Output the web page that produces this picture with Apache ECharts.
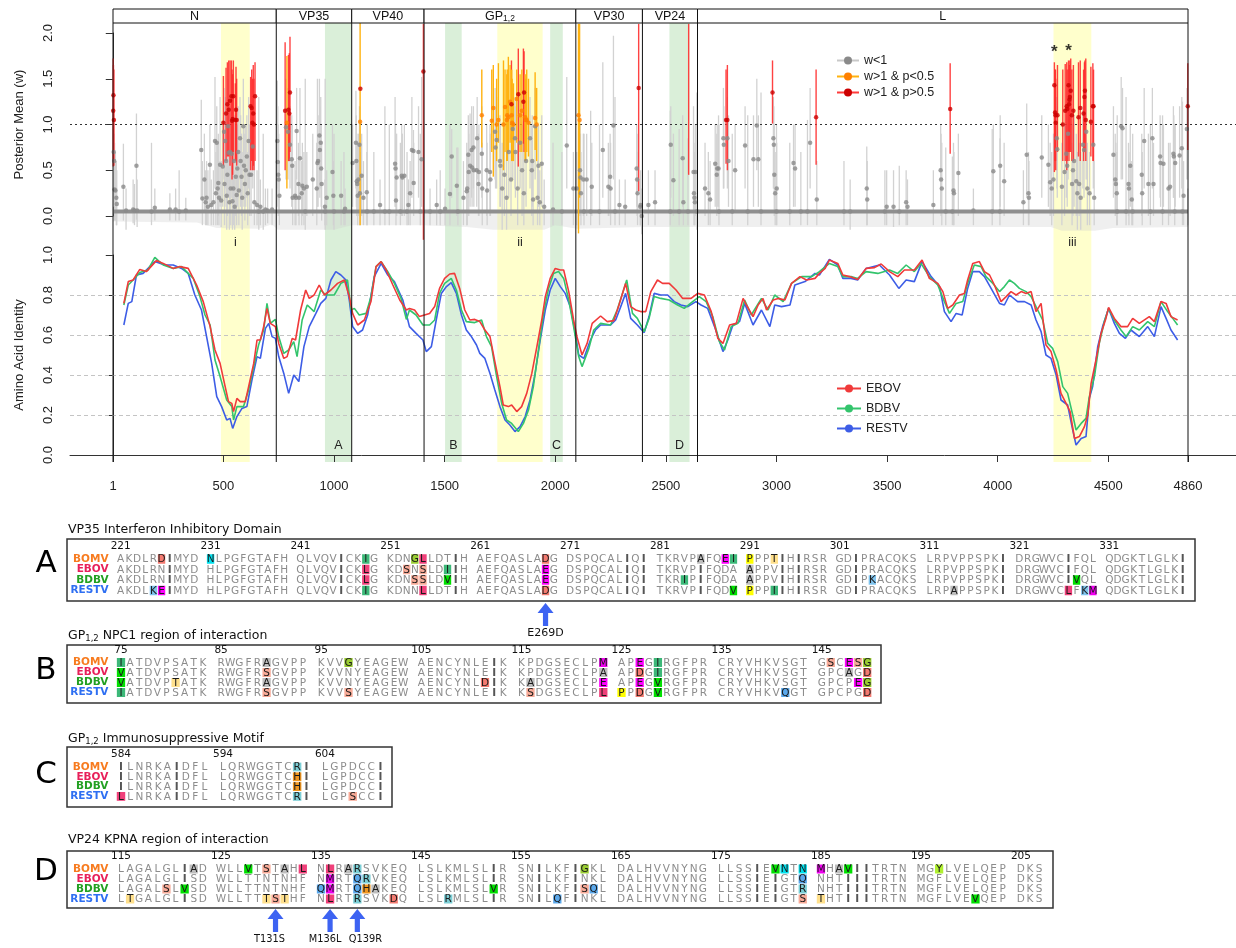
<!DOCTYPE html>
<html>
<head>
<meta charset="utf-8">
<script src="https://cdn.jsdelivr.net/npm/echarts@6.0.0/dist/echarts.min.js"></script>
<style>html,body{margin:0;padding:0;background:#fff;}#chart{width:1236px;height:948px;}</style>
</head>
<body>
<div id="chart"></div>
<script>
// ================= DATA =================
const geneNames = ['N','VP35','VP40','GP','VP30','VP24','L'];
const geneBounds = [1,739,1080,1407,2093,2394,2643,4860];
const hotspotRanges = [[489,619],[1738,1943],[4252,4423]];
const hotspotLabels = ['i','ii','iii'];
const motifRanges = [[959,1080],[1502,1577],[1977,2034],[2516,2607]];
const motifLabels = ['A','B','C','D'];
const xTickValues = [1,500,1000,1500,2000,2500,3000,3500,4000,4500,4860];
const identityGridValues = [0.2,0.4,0.6,0.8];
const baselineW = 0.05;
const starSites = [[4256,1.79],[4320,1.80]];

// HPD "fuzz" lower envelope below the baseline [pos, w]
const hpdFloor = [[1,-0.06],[380,-0.07],[470,-0.13],[660,-0.14],[720,-0.09],[745,-0.15],[1000,-0.15],[1080,-0.1],[1400,-0.1],[1600,-0.12],[1720,-0.15],[1950,-0.15],[2000,-0.1],[2100,-0.14],[2400,-0.12],[2650,-0.12],[3000,-0.12],[4240,-0.12],[4290,-0.16],[4440,-0.16],[4520,-0.13],[4860,-0.12]];

// sites: [pos, posterior mean w, HPD low, HPD high]
const siteGray = [
[4,0.7,0.1,1.27],[6,0.6,0.05,0.9],[8,0.29,-0.05,0.8],[12,0.28,-0.05,0.7],[16,0.2,-0.1,0.6],[18,0.13,-0.1,0.5],
[48,0.32,-0.05,0.79],[60,0.06,-0.15,0.3],[92,0.07,-0.08,0.4],[98,0.06,-0.1,0.35],[107,0.55,-0.04,1.12],[110,0.06,-0.12,0.4],
[175,0.05,-0.1,0.8],[190,0.09,-0.05,0.3],[258,0.07,-0.05,0.25],[284,0.07,-0.05,0.3],[300,0.05,-0.05,0.5],[330,0.06,-0.05,0.2],
[400,0.72,0.2,1.27],[405,0.19,-0.1,0.6],[414,0.4,0.05,0.9],[420,0.15,-0.1,0.5],[424,0.2,-0.1,0.6],[430,0.1,-0.1,0.5],[439,0.56,0.1,1.0],[445,0.12,-0.1,0.4],[455,0.15,-0.1,0.5],
[462,0.82,0.3,1.52],[466,0.25,-0.1,0.7],[470,0.8,0.3,1.2],[474,0.3,-0.1,0.8],[477,0.36,0.0,0.9],[480,0.2,-0.1,0.6],[485,0.56,0.1,1.3],[490,0.17,-0.12,0.6],
[497,0.54,0.1,1.0],[503,0.92,0.4,1.4],[505,0.35,-0.1,0.9],[508,0.82,0.3,1.3],[512,0.6,0.1,1.1],[515,0.22,-0.15,0.8],[518,0.45,0,1.0],[521,0.98,0.5,1.5],[524,0.69,0.2,1.2],[527,0.15,-0.15,0.6],[530,0.7,0.2,1.2],[533,0.3,-0.1,0.9],[538,0.68,0.2,1.3],[541,0.16,-0.15,0.6],[545,0.3,-0.1,0.8],[548,0.6,0.1,1.1],[551,0.1,-0.15,0.5],[556,0.43,0,1.0],[560,0.23,-0.1,0.7],[563,0.52,0.1,1.0],[567,0.7,0.2,1.2],[570,0.28,-0.1,0.8],[575,0.85,0.4,1.3],[578,0.6,0.1,1.1],[582,0.43,0,0.9],[585,0.2,-0.15,0.7],[590,0.98,0.5,1.5],[593,0.55,0.1,1.0],[597,0.35,-0.05,0.9],[601,0.5,0.1,1.0],[606,0.65,0.2,1.1],[610,0.25,-0.1,0.7],[614,0.82,0.3,1.3],[618,0.45,0,1.0],[625,0.45,0,1.0],[633,0.76,0.3,1.2],[640,0.15,-0.1,0.6],[652,0.12,-0.1,0.5],[660,0.05,-0.15,1.3],[667,0.1,-0.1,0.4],[680,0.05,-0.15,0.9],[690,0.07,-0.1,0.3],[700,0.06,-0.08,0.3],[720,0.07,-0.1,0.3],
[744,0.82,0.3,1.48],[746,0.59,0.1,1.2],[748,0.45,0,1.0],[750,0.4,0,0.9],[753,0.22,-0.1,0.6],[783,0.97,0.4,1.5],[792,0.92,0.4,1.4],[801,0.78,0.3,1.2],[809,0.62,0.1,1.1],[811,0.55,0.1,1.0],[813,0.2,-0.1,0.6],[824,0.22,-0.1,0.6],[828,0.2,-0.1,0.5],[831,0.93,0.4,1.4],[839,0.35,0,0.8],[842,0.2,-0.1,0.6],[846,0.63,0.2,1.4],[854,0.25,-0.1,0.6],[857,0.33,0,0.8],[864,0.3,-0.1,0.7],[870,0.05,-0.15,1.5],[877,0.32,0,0.7],[904,0.4,0,0.9],[922,0.3,-0.1,0.8],[925,0.58,0.1,1.5],[928,0.6,0.1,1.1],[934,0.88,0.3,1.5],[936,0.72,0.2,1.2],[940,0.8,0.3,1.3],[942,0.52,0.1,1.0],[944,0.35,-0.05,0.8],[959,0.1,-0.1,0.4],[960,0.05,-0.15,1.5],[967,0.2,-0.1,0.5],[993,0.48,0.05,1.0],[997,0.22,-0.1,0.6],[1000,0.05,-0.15,0.9],[1032,0.22,-0.1,0.6],[1045,0.05,-0.1,0.7],[1050,0.08,-0.1,0.3],
[1084,0.58,0.1,1.0],[1099,0.8,0.3,1.37],[1101,0.6,0.1,1.1],[1103,0.38,0,0.9],[1105,0.35,0,0.8],[1107,0.22,-0.1,0.6],[1110,0.4,0,0.9],[1115,0.78,0.3,1.2],[1117,0.25,-0.1,0.7],[1125,0.44,0,0.9],[1133,0.2,-0.1,0.6],[1148,0.26,-0.1,0.7],[1150,0.05,-0.1,1.0],[1180,0.05,-0.1,0.7],[1208,0.12,-0.1,0.4],[1230,0.05,-0.1,1.2],[1250,0.05,-0.1,1.0],[1276,0.57,0.1,1.3],[1278,0.52,0.1,1.0],[1280,0.17,-0.1,0.6],[1283,0.42,0,0.9],[1300,0.05,-0.1,0.8],[1306,0.44,0,1.0],[1309,0.42,0,0.9],[1318,0.44,0,1.0],[1330,0.05,-0.1,0.7],[1336,0.12,-0.1,0.4],[1344,0.25,-0.1,0.6],[1352,0.72,0.2,1.3],[1359,0.71,0.3,0.94],[1360,0.36,0,0.8],[1382,0.7,0.2,1.2],[1390,0.05,-0.1,0.9],[1396,0.62,0.1,1.52],
[1434,0.05,-0.1,0.3],[1464,0.12,-0.1,0.4],[1480,0.05,-0.1,0.5],[1502,0.08,-0.1,0.3],[1524,0.24,-0.1,1.0],[1532,0.65,0.2,0.95],[1555,0.33,0,0.75],[1560,0.05,-0.1,0.75],[1585,0.2,-0.1,0.6],[1600,0.27,-0.1,0.8],[1602,0.3,-0.1,0.7],[1607,0.67,0.2,1.1],[1609,0.48,0,0.9],[1615,0.55,0.1,1.12],[1622,0.72,0.2,1.2],[1624,0.53,0.1,1.0],[1630,0.75,0.3,1.2],[1632,0.5,0.1,1.0],[1645,0.5,0.1,1.0],[1647,0.85,0.4,1.3],[1653,0.35,0,0.9],[1655,0.48,0,1.0],[1668,0.68,0.2,1.2],[1670,0.3,-0.1,0.8],[1690,0.5,0,1.0],[1692,0.28,-0.1,0.8],[1705,0.48,0,1.0],[1707,0.4,0,0.9],[1728,0.92,0.4,1.4],[1730,0.75,0.3,1.2],[1735,0.83,0.3,1.3],[1750,0.6,0.1,1.1],[1752,0.55,0.1,1.0],[1760,0.3,-0.15,0.8],[1770,0.45,0,1.0],[1780,0.2,-0.15,0.7],[1790,0.7,0.2,1.2],[1800,0.4,0,0.9],[1808,0.95,0.4,1.4],[1818,0.85,0.3,1.3],[1820,0.7,0.2,1.2],[1830,0.3,-0.1,0.8],[1841,0.8,0.3,1.3],[1850,0.5,0,1.0],[1858,0.25,-0.1,0.8],[1868,0.6,0.1,1.1],[1886,0.85,0.3,1.3],[1894,0.5,0,1.0],[1896,0.6,0.1,1.1],[1900,0.18,-0.1,0.6],[1909,0.98,0.4,1.4],[1920,0.2,-0.1,0.6],[1924,0.55,0.1,1.0],[1930,0.15,-0.1,0.5],[1939,0.57,0.1,1.1],[1950,0.1,-0.1,0.4],[1990,0.07,-0.1,0.8],[2030,0.05,-0.1,0.7],[2052,0.77,0.3,1.52],[2082,0.3,-0.1,0.7],
[2097,0.3,-0.1,0.7],[2112,0.5,0,1.0],[2114,0.42,0,0.9],[2116,0.25,-0.1,0.7],[2127,0.4,0,0.9],[2130,0.05,-0.1,0.9],[2142,0.4,0,0.9],[2160,0.05,-0.1,1.15],[2165,0.32,0,0.8],[2200,0.05,-0.1,1.0],[2215,0.72,0.2,1.68],[2240,0.32,0,0.8],[2248,0.43,0,0.9],[2250,0.3,-0.1,0.8],[2263,0.99,0.4,1.97],[2270,0.05,-0.1,1.3],[2290,0.12,-0.1,0.4],[2316,0.1,-0.1,0.4],[2368,0.52,0.1,1.0],[2370,0.4,0,0.9],[2372,0.25,-0.1,0.7],[2384,0.1,-0.1,0.4],[2386,0.12,-0.1,0.5],[2391,0.0,-0.2,0.3],
[2421,0.12,-0.1,0.5],[2451,0.15,-0.1,0.5],[2520,0.05,-0.1,1.15],[2522,0.78,0.2,1.2],[2534,0.39,0,0.9],[2560,0.05,-0.1,0.95],[2576,0.63,0.1,1.1],[2579,0.15,-0.1,0.6],[2600,0.05,-0.1,0.85],[2625,0.48,0.05,1.2],[2627,0.25,-0.1,0.8],[2629,0.2,-0.1,0.7],[2631,0.15,-0.1,0.6],[2633,0.48,0,1.0],[2640,0.05,-0.15,1.35],
[2677,0.3,0,0.8],[2692,0.25,-0.1,0.7],[2700,0.18,-0.1,0.6],[2723,0.57,0.1,1.0],[2730,0.45,0,0.9],[2732,0.52,0.1,1.0],[2738,0.52,0.1,1.1],[2740,0.05,-0.1,1.0],[2760,0.85,0.3,1.4],[2762,0.78,0.3,1.2],[2778,0.85,0.3,1.3],[2783,0.6,0.1,1.1],[2800,0.05,-0.1,0.9],[2813,0.5,0.05,1.0],[2858,0.77,0.3,1.2],[2870,0.05,-0.1,1.1],[2896,0.62,0.1,1.1],[2911,0.99,0.5,1.5],[2918,0.62,0.1,1.1],[2930,0.05,-0.1,1.35],[2986,0.85,0.3,1.3],[2988,0.78,0.3,1.2],[2990,0.45,0,1.0],[2994,0.25,-0.1,0.7],[3000,0.05,-0.1,1.0],[3001,0.3,-0.1,0.8],[3060,0.05,-0.1,0.8],[3077,0.58,0.1,1.0],[3084,0.52,0.1,1.0],[3110,0.05,-0.1,0.7],[3140,0.05,-0.1,1.05],[3152,0.8,0.3,1.4],[3182,0.18,-0.1,0.6],
[3305,0.05,-0.1,0.6],[3333,0.05,-0.15,0.4],[3408,0.3,-0.1,0.76],[3410,0.18,-0.1,0.6],[3490,0.05,-0.1,0.5],[3498,0.1,-0.1,0.5],[3529,0.1,-0.12,0.5],[3555,0.05,-0.1,0.55],[3586,0.15,-0.1,0.5],[3592,0.1,-0.1,0.4],[3709,0.12,-0.1,0.5],[3742,0.5,0.05,1.0],[3744,0.4,0,0.9],[3747,0.3,-0.1,0.8],[3765,0.05,-0.1,0.75],[3795,0.05,-0.1,0.65],[3800,0.28,-0.1,0.8],[3802,0.25,-0.1,0.7],[3822,0.47,0,0.9],[3890,0.06,-0.1,0.3],[3975,0.05,-0.1,0.95],[3980,0.49,0.05,1.0],[4010,0.05,-0.1,0.85],[4011,0.55,0.1,1.1],[4029,0.38,0,0.8],[4116,0.15,-0.1,0.5],[4131,0.67,0.2,1.23],[4139,0.25,-0.1,0.7],[4141,0.2,-0.1,0.6],[4199,0.64,0.2,1.1],[4229,0.56,0.1,1.0],[4237,0.37,0,0.8],[4244,0.3,-0.1,0.7],[4252,0.4,0,0.9],[4267,0.85,0.3,1.3],[4269,0.73,0.2,1.2],
[4290,0.32,-0.1,0.8],[4302,0.48,0,1.0],[4310,0.68,0.2,1.1],[4314,0.55,0.1,1.0],[4318,0.9,0.4,1.4],[4336,0.35,-0.1,0.8],[4340,0.5,0,1.0],[4345,0.6,0.1,1.1],[4355,0.38,0,0.9],[4360,0.25,-0.15,0.7],[4368,0.35,0,0.8],[4375,0.2,-0.15,0.7],[4385,0.78,0.3,1.2],[4390,0.72,0.2,1.2],[4400,0.92,0.4,1.4],[4405,0.3,-0.1,0.8],[4415,0.25,-0.1,0.7],[4432,0.78,0.3,1.2],[4436,0.2,-0.1,0.6],
[4523,0.67,0.2,1.2],[4531,0.4,0,0.9],[4534,0.35,0,0.8],[4538,0.25,-0.1,0.7],[4540,0.05,-0.1,1.1],[4558,0.98,0.4,1.52],[4564,0.96,0.4,1.4],[4580,0.05,-0.1,1.3],[4591,0.35,0,0.8],[4593,0.3,-0.1,0.7],[4599,0.55,0.1,1.0],[4606,0.18,-0.1,0.6],[4610,0.05,-0.1,0.9],[4651,0.45,0,0.9],[4653,0.25,-0.1,0.7],[4662,0.82,0.3,1.4],[4681,0.35,0,0.9],[4690,0.05,-0.1,1.0],[4699,0.85,0.3,1.4],[4704,0.35,0,0.8],[4734,0.65,0.2,1.1],[4736,0.58,0.1,1.0],[4745,0.05,-0.1,1.1],[4749,0.57,0.1,1.0],[4772,0.3,-0.1,0.8],[4779,0.32,0,0.8],[4794,0.68,0.2,1.2],[4796,0.65,0.2,1.1],[4800,0.05,-0.1,1.0],[4802,0.58,0.1,1.0],[4822,0.66,0.2,1.2],[4832,0.74,0.3,1.3],[4835,0.05,-0.1,1.25],[4840,0.22,-0.1,0.6],[4855,0.95,0.4,1.4],[4859,-0.05,-0.1,0.3]
];
const siteOrange = [
[787,1.02,0.3,1.75],[1118,1.03,-0.1,2.12],
[1668,1.1,0.75,1.6],[1713,1.04,0.7,1.6],[1720,1.18,0.43,1.65],[1735,1.0,0.6,1.5],[1743,1.05,0.8,1.67],[1766,1.0,0.5,1.7],[1773,1.19,0.7,1.6],[1781,1.05,0.6,1.55],[1783,1.1,0.6,1.6],[1788,1.08,0.7,1.74],[1796,1.25,0.8,1.65],[1803,1.1,0.6,1.6],[1805,1.02,0.6,1.5],[1811,1.0,0.6,1.45],[1826,1.28,0.8,1.6],[1841,1.1,0.7,1.55],[1849,1.15,0.7,1.6],[1864,1.08,0.6,1.55],[1866,1.05,0.6,1.5],[1871,1.05,0.7,1.6],[1879,1.02,0.65,1.5],[1909,1.07,0.72,1.57],[1916,1.0,0.6,1.4],
[2105,1.1,-0.19,2.1],[2110,1.05,0.2,2.1]
];
const siteRed = [
[2,1.15,0.54,1.72],[3,1.32,0.6,1.65],[5,1.05,0.55,1.6],
[500,1.02,0.55,1.53],[512,1.12,0.6,1.62],[518,1.22,0.65,1.68],[524,1.16,0.65,1.7],[530,1.26,0.55,1.7],[536,1.31,0.7,1.7],[539,1.04,0.4,1.6],[542,1.06,0.45,1.55],[545,1.31,0.7,1.7],[554,1.05,0.6,1.45],[557,1.16,0.6,1.63],[560,1.05,0.55,1.5],[623,1.2,0.5,1.52],[628,1.18,0.6,1.6],[631,1.02,0.5,1.5],[635,1.12,0.55,1.65],[638,1.0,0.5,1.5],[643,1.31,0.6,1.68],
[779,1.15,0.5,1.9],[794,1.16,0.6,1.76],[798,1.12,0.6,1.78],[801,1.35,0.7,1.96],
[1119,1.39,null,null],
[1404,1.58,-0.26,2.1],[1802,1.22,0.83,1.7],[1833,1.33,0.54,1.83],[1856,1.25,0.79,1.83],[1859,1.35,0.7,1.8],
[2377,1.4,0.27,2.1],[2603,null,0.45,2.1],
[2772,1.05,0.57,1.6],[2778,1.05,0.5,1.65],[2982,1.35,1.01,1.7],[3179,1.08,0.56,1.6],[3785,1.17,0.68,1.67],
[4256,1.43,0.48,1.68],[4259,1.13,0.6,1.6],[4261,1.1,0.6,1.6],[4262,1.02,0.5,1.5],[4270,1.1,0.7,1.65],[4294,1.0,0.6,1.6],[4305,1.15,0.6,1.66],[4312,1.2,0.5,1.68],[4314,1.17,0.6,1.6],[4320,1.43,0.7,1.7],[4322,1.22,0.6,1.6],[4324,1.27,0.7,1.65],[4326,1.3,0.7,1.7],[4330,1.37,0.7,1.72],[4335,1.1,0.6,1.6],[4342,1.15,0.6,1.65],[4365,1.08,0.65,1.68],[4373,1.18,0.6,1.7],[4388,1.12,0.6,1.6],[4392,1.3,0.7,1.68],[4394,1.37,0.8,1.7],[4398,1.05,0.6,1.72],[4421,1.03,0.65,1.63],[4430,1.2,0.6,1.67],[4433,1.2,0.6,1.6],
[4859,1.2,0.72,1.67]
];

// amino-acid identity [pos, identity]
const identityEBOV = [[50,0.758],[70,0.867],[92,0.875],[122,0.928],[152,0.917],[197,0.972],[228,0.958],[273,0.933],[303,0.942],[341,0.933],[379,0.85],[409,0.767],[440,0.642],[462,0.525],[485,0.458],[508,0.342],[523,0.267],[538,0.258],[546,0.217],[561,0.283],[576,0.267],[599,0.267],[614,0.342],[637,0.458],[652,0.575],[667,0.575],[682,0.642],[697,0.733],[712,0.658],[735,0.642],[750,0.558],[773,0.483],[788,0.492],[811,0.583],[826,0.575],[849,0.725],[872,0.825],[888,0.783],[910,0.8],[933,0.85],[956,0.8],[986,0.825],[1016,0.858],[1047,0.875],[1069,0.792],[1084,0.708],[1107,0.65],[1137,0.675],[1167,0.767],[1190,0.942],[1213,0.967],[1236,0.925],[1266,0.85],[1297,0.775],[1327,0.725],[1341,0.733],[1364,0.725],[1386,0.692],[1409,0.7],[1432,0.708],[1455,0.742],[1477,0.833],[1500,0.883],[1523,0.905],[1545,0.908],[1568,0.833],[1591,0.725],[1614,0.675],[1636,0.678],[1659,0.667],[1667,0.675],[1682,0.625],[1705,0.592],[1727,0.467],[1750,0.342],[1765,0.25],[1788,0.242],[1803,0.25],[1826,0.217],[1848,0.242],[1871,0.308],[1894,0.408],[1917,0.542],[1939,0.675],[1955,0.792],[1977,0.883],[2000,0.933],[2023,0.925],[2038,0.925],[2061,0.817],[2083,0.675],[2098,0.592],[2121,0.5],[2144,0.558],[2167,0.658],[2205,0.695],[2235,0.667],[2265,0.672],[2288,0.75],[2318,0.858],[2341,0.742],[2364,0.725],[2386,0.717],[2409,0.717],[2432,0.817],[2462,0.875],[2485,0.858],[2515,0.858],[2546,0.825],[2576,0.783],[2614,0.783],[2644,0.808],[2674,0.8],[2705,0.717],[2735,0.583],[2758,0.558],[2788,0.65],[2818,0.658],[2849,0.783],[2864,0.75],[2894,0.692],[2917,0.75],[2939,0.783],[2955,0.725],[2985,0.775],[3008,0.783],[3038,0.775],[3068,0.858],[3106,0.892],[3136,0.875],[3174,0.883],[3194,0.908],[3220,0.933],[3239,0.975],[3277,0.958],[3300,0.9],[3330,0.892],[3367,0.878],[3405,0.933],[3443,0.937],[3473,0.955],[3511,0.917],[3548,0.892],[3578,0.925],[3623,0.925],[3658,0.975],[3691,0.883],[3729,0.858],[3752,0.817],[3774,0.733],[3797,0.75],[3827,0.8],[3849,0.808],[3864,0.875],[3887,0.958],[3917,0.967],[3940,0.917],[3963,0.9],[3985,0.85],[4015,0.767],[4038,0.792],[4060,0.817],[4083,0.8],[4106,0.817],[4128,0.808],[4151,0.817],[4173,0.717],[4196,0.758],[4218,0.55],[4241,0.517],[4264,0.425],[4286,0.308],[4309,0.258],[4327,0.217],[4347,0.083],[4369,0.092],[4392,0.142],[4407,0.2],[4422,0.358],[4444,0.475],[4467,0.608],[4489,0.683],[4501,0.738],[4527,0.683],[4557,0.642],[4587,0.642],[4610,0.683],[4640,0.658],[4685,0.692],[4708,0.667],[4738,0.767],[4761,0.758],[4783,0.692],[4813,0.675]];
const identityBDBV = [[50,0.75],[70,0.85],[92,0.875],[122,0.912],[159,0.925],[190,0.988],[228,0.95],[273,0.933],[311,0.942],[341,0.908],[364,0.883],[394,0.792],[417,0.7],[440,0.65],[462,0.475],[485,0.392],[515,0.275],[538,0.242],[546,0.175],[561,0.242],[591,0.242],[614,0.325],[637,0.442],[659,0.55],[682,0.625],[697,0.758],[712,0.658],[735,0.678],[750,0.592],[773,0.508],[795,0.525],[818,0.567],[833,0.492],[856,0.675],[879,0.75],[910,0.717],[940,0.825],[963,0.8],[1001,0.8],[1031,0.858],[1061,0.875],[1077,0.725],[1092,0.733],[1114,0.7],[1145,0.708],[1167,0.792],[1190,0.942],[1213,0.967],[1243,0.917],[1273,0.858],[1303,0.783],[1327,0.678],[1341,0.725],[1371,0.7],[1402,0.65],[1432,0.65],[1455,0.675],[1477,0.808],[1500,0.858],[1530,0.883],[1553,0.825],[1576,0.725],[1598,0.667],[1636,0.662],[1667,0.675],[1689,0.592],[1712,0.542],[1735,0.392],[1758,0.258],[1780,0.175],[1803,0.158],[1833,0.117],[1856,0.158],[1879,0.225],[1901,0.342],[1924,0.525],[1947,0.708],[1970,0.833],[1992,0.908],[2015,0.917],[2038,0.883],[2061,0.775],[2083,0.642],[2106,0.492],[2121,0.442],[2152,0.533],[2174,0.625],[2205,0.658],[2250,0.65],[2280,0.725],[2323,0.875],[2349,0.708],[2371,0.683],[2402,0.617],[2424,0.683],[2447,0.792],[2477,0.783],[2515,0.775],[2553,0.75],[2583,0.733],[2621,0.767],[2651,0.792],[2682,0.767],[2712,0.692],[2742,0.567],[2765,0.525],[2795,0.642],[2826,0.658],[2856,0.775],[2886,0.7],[2932,0.783],[2962,0.725],[2992,0.8],[3030,0.767],[3068,0.858],[3114,0.892],[3159,0.892],[3194,0.917],[3239,0.958],[3277,0.942],[3300,0.892],[3337,0.892],[3367,0.883],[3405,0.917],[3458,0.908],[3511,0.925],[3548,0.908],[3586,0.95],[3623,0.917],[3653,0.958],[3691,0.892],[3729,0.85],[3759,0.767],[3782,0.708],[3812,0.758],[3842,0.767],[3864,0.858],[3894,0.95],[3925,0.942],[3947,0.892],[3978,0.858],[4008,0.817],[4030,0.842],[4053,0.875],[4075,0.858],[4098,0.833],[4128,0.817],[4151,0.792],[4173,0.742],[4203,0.675],[4226,0.558],[4248,0.533],[4271,0.467],[4294,0.342],[4316,0.308],[4339,0.2],[4354,0.125],[4377,0.158],[4399,0.183],[4414,0.292],[4437,0.392],[4459,0.558],[4482,0.667],[4501,0.733],[4527,0.675],[4557,0.625],[4580,0.592],[4610,0.642],[4640,0.625],[4678,0.667],[4708,0.642],[4738,0.767],[4768,0.717],[4791,0.683],[4813,0.65]];
const identityRESTV = [[50,0.65],[70,0.758],[86,0.767],[107,0.9],[137,0.908],[190,0.967],[235,0.95],[273,0.95],[311,0.933],[341,0.908],[371,0.8],[401,0.725],[424,0.592],[447,0.458],[470,0.292],[492,0.242],[515,0.175],[530,0.183],[542,0.133],[561,0.192],[584,0.233],[606,0.242],[629,0.375],[652,0.492],[667,0.483],[690,0.633],[705,0.658],[720,0.592],[735,0.583],[750,0.492],[773,0.408],[795,0.308],[818,0.4],[841,0.367],[864,0.542],[888,0.642],[918,0.708],[940,0.758],[963,0.783],[986,0.875],[1008,0.917],[1031,0.9],[1054,0.875],[1069,0.775],[1084,0.642],[1107,0.608],[1129,0.625],[1152,0.7],[1182,0.892],[1213,0.958],[1243,0.9],[1273,0.867],[1311,0.775],[1341,0.642],[1371,0.608],[1402,0.575],[1417,0.517],[1440,0.542],[1462,0.675],[1485,0.808],[1508,0.842],[1530,0.862],[1553,0.808],[1576,0.7],[1598,0.625],[1621,0.592],[1644,0.55],[1659,0.508],[1682,0.483],[1705,0.408],[1727,0.325],[1750,0.242],[1773,0.175],[1795,0.15],[1818,0.117],[1841,0.142],[1864,0.192],[1886,0.275],[1909,0.408],[1932,0.575],[1955,0.725],[1977,0.825],[2000,0.883],[2023,0.842],[2045,0.808],[2068,0.742],[2091,0.608],[2106,0.5],[2129,0.483],[2159,0.575],[2182,0.625],[2205,0.65],[2250,0.65],[2273,0.675],[2296,0.742],[2318,0.808],[2341,0.683],[2371,0.65],[2402,0.612],[2424,0.692],[2447,0.808],[2477,0.8],[2508,0.8],[2538,0.767],[2568,0.75],[2599,0.742],[2636,0.767],[2659,0.75],[2689,0.733],[2720,0.642],[2758,0.517],[2780,0.575],[2803,0.65],[2833,0.667],[2856,0.758],[2894,0.65],[2932,0.725],[2970,0.642],[2992,0.75],[3023,0.742],[3061,0.75],[3083,0.85],[3129,0.867],[3174,0.908],[3194,0.9],[3239,0.978],[3277,0.95],[3300,0.883],[3337,0.883],[3367,0.875],[3405,0.933],[3465,0.95],[3511,0.9],[3553,0.833],[3586,0.875],[3623,0.867],[3658,0.967],[3699,0.892],[3737,0.842],[3759,0.717],[3789,0.667],[3812,0.708],[3839,0.7],[3864,0.833],[3887,0.917],[3917,0.917],[3940,0.892],[3970,0.833],[4008,0.758],[4030,0.75],[4053,0.8],[4090,0.767],[4121,0.767],[4151,0.75],[4173,0.675],[4196,0.617],[4218,0.5],[4241,0.483],[4264,0.4],[4286,0.275],[4316,0.25],[4339,0.125],[4354,0.05],[4377,0.083],[4399,0.092],[4414,0.283],[4429,0.342],[4452,0.542],[4474,0.642],[4501,0.733],[4527,0.658],[4550,0.608],[4577,0.583],[4602,0.625],[4640,0.592],[4678,0.642],[4708,0.592],[4738,0.742],[4761,0.683],[4783,0.625],[4813,0.575]];

// alignment panels
const alignRows = ['BOMV','EBOV','BDBV','RESTV'];
const seqA = [
'AKDLRDIMYD NLPGFGTAFH QLVQVICKIG KDNGLLDTIH AEFQASLADG DSPQCALIQI TKRVPAFQEI PPPTIHIRSR GDIPRACQKS LRPVPPSPKI DRGWVCIFQL QDGKTLGLKI',
'AKDLRNIMYD HLPGFGTAFH QLVQVICKLG KDSNSLDIIH AEFQASLAEG DSPQCALIQI TKRVPIFQDA APPVIHIRSR GDIPRACQKS LRPVPPSPKI DRGWVCIFQL QDGKTLGLKI',
'AKDLRNIMYD HLPGFGTAFH QLVQVICKLG KDNSSLDVIH AEFQASLAEG DSPQCALIQI TKRIPIFQDA APPVIHIRSR GDIPKACQKS LRPVPPSPKI DRGWVCIVQL QDGKTLGLKI',
'AKDLKEIMYD HLPGFGTAFH QLVQVICKIG KDNNLLDTIH AEFQASLADG DSPQCALIQI TKRVPIFQDV PPPIIHIRSR GDIPRACQKS LRPAPPSPKI DRGWVCLFKM QDGKTLGLKI'];
const hlA = [[226,231,249,254,255,269,286,289,290,291,294],[249,253,255,258,269,291],[249,254,255,258,269,284,291,305,328],[225,226,249,255,269,290,291,294,314,327,329,330]];
const mutA = [[269,'E269D']];
const seqB = [
'IATDVPSATK RWGFRAGVPP KVVGYEAGEW AENCYNLEIK KPDGSECLPM APEGIRGFPR CRYVHKVSGT GSCESG',
'VATDVPSATK RWGFRSGVPP KVVNYEAGEW AENCYNLEIK KPDGSECLPA APDGIRGFPR CRYVHKVSGT GPCAGD',
'VATDVPTATK RWGFRAGVPP KVVNYEAGEW AENCYNLDIK KADGSECLPE APEGVRGFPR CRYVHKVSGT GPCPEG',
'IATDVPSATK RWGFRSGVPP KVVSYEAGEW AENCYNLEIK KSDGSECLPL PPDGVRGFPR CRYVHKVQGT GPCPGD'];
const hlB = [[75,90,98,124,127,129,146,148,149,150],[75,90,124,127,129,148,150],[75,81,90,112,116,124,127,129,149,150],[75,90,98,116,124,125,127,129,142,150]];
const seqC = [
'ILNRKAIDFL LQRWGGTCRI LGPDCCI',
'ILNRKAIDFL LQRWGGTCHI LGPDCCI',
'ILNRKAIDFL LQRWGGTCHI LGPDCCI',
'LLNRKAIDFL LQRWGGTCRI LGPSCCI'];
const hlC = [[602],[602],[602],[584,602,607]];
const seqD = [
'LAGALGLIAD WLLVTSTAHL NLRARSVKEQ LSLKMLSLIR SNILKFIGKL DALHVVNYNG LLSSIEVNTN MHAVIITRTN MGYLVELQEP DKS',
'LAGALGLISD WLLTTNTNHF NMRTQRVKEQ LSLKMLSLIR SNILKFINKL DALHVVNYNG LLSSIEIGTQ NHTIIITRTN MGFLVELQEP DKS',
'LAGALSLVSD WLLTTNTNHF QMRTQHAKEQ LSLKMLSLVR SNILKFISQL DALHVVNYNG LLSSIEIGTR NHTIIITRTN MGFLVELQEP DKS',
'LTGALGLISD WLLTTTSTHF NLRTRSVKDQ LSLRMLSLIR SNILQFINKL DALHVVNYNG LLSSIEIGTS THTIIITRTN MGFLVEVQEP DKS'];
const hlD = [[123,128,130,132,134,136,138,139,162,181,182,184,185,187,188,197],[136,139,140,184],[120,122,135,136,139,140,141,153,162,163,184],[116,130,131,132,136,139,143,148,159,184,185,201]];
const mutD = [[131,'T131S'],[136,'M136L'],[139,'Q139R']];

// ================= STYLE / LAYOUT =================
const SANS = '"Liberation Sans", Arial, sans-serif';
const DJ = '"DejaVu Sans", sans-serif';
const aaColor = {A:'#bebebe',D:'#f47a70',E:'#ff00ff',G:'#9acd32',H:'#f0961e',I:'#3cb878',K:'#80c4ee',L:'#f0407a',M:'#f000f0',N:'#00e0ee',P:'#ffff00',Q:'#5aa8ec',R:'#7ccfd6',S:'#f8ab98',T:'#ffe08c',V:'#00e000',Y:'#b0f030'};
const rowColors = ['#f77b1f','#e8205a','#22a022','#2e6ff2'];
const geneDisplay = {GP:'GP{s|1,2}'};

const pxPerRes = (1188 - 113) / (4860 - 1);
const xMin = 1 - (113 - 70) / pxPerRes;
const xMax = 4860 + (1236 - 1188) / pxPerRes;

const grids = [
  {left:70, width:1166, top:33, height:183},   // 0 posterior mean
  {left:70, width:1166, top:255, height:200},  // 1 identity
  {left:70, width:1166, top:23, height:439},   // 2 overlay bands
  {left:70, width:1166, top:9, height:14}      // 3 gene header
];
const xAxes = [0,1,2,3].map(i => ({gridIndex:i, type:'value', min:xMin, max:xMax, show:false}));
xAxes[1] = {gridIndex:1, type:'value', min:xMin, max:xMax, offset:7,
  axisLine:{show:true, lineStyle:{color:'#333', width:1}},
  axisTick:{show:true, length:7, customValues:xTickValues, lineStyle:{color:'#333'}},
  axisLabel:{customValues:xTickValues, margin:18, fontSize:13, color:'#222', fontFamily:SANS, formatter:v => String(Math.round(v))},
  splitLine:{show:false}};
const yAxisBase = (gi, min, max, interval, name) => ({gridIndex:gi, type:'value', min, max, interval,
  axisLine:{show:true, lineStyle:{color:'#333'}}, axisTick:{show:true, length:7, lineStyle:{color:'#333'}},
  axisLabel:{rotate:90, margin:15, fontSize:13, color:'#222', fontFamily:SANS, formatter:v => v.toFixed(1)},
  splitLine:{show:false}, name, nameLocation:'middle', nameGap:44, nameRotate:90,
  nameTextStyle:{fontSize:13, color:'#222', fontFamily:SANS}});
const yAxes = [
  yAxisBase(0, 0, 2, 0.5, 'Posterior Mean (w)'),
  yAxisBase(1, 0, 1, 0.2, 'Amino Acid Identity'),
  {gridIndex:2, type:'value', min:0, max:1, show:false},
  {gridIndex:3, type:'value', min:0, max:1, show:false}
];

function hpdSeries(name, sites, color, width, z) {
  const d = sites.filter(s => s[2] !== null).map(s => [s[0], s[2], s[3]]);
  return {type:'custom', name, xAxisIndex:0, yAxisIndex:0, z, clip:false, silent:true, data:d,
    renderItem:(params, api) => {
      const a = api.coord([api.value(0), api.value(1)]);
      const b = api.coord([api.value(0), api.value(2)]);
      return {type:'line', shape:{x1:a[0], y1:a[1], x2:b[0], y2:b[1]}, style:{stroke:color, lineWidth:width}};
    }};
}
function pointSeries(name, sites, color, z) {
  return {type:'scatter', name, xAxisIndex:0, yAxisIndex:0, z, silent:true, symbolSize:4.5,
    itemStyle:{color}, data:sites.filter(s => s[1] !== null).map(s => [s[0], s[1]])};
}

const series = [];
// overlay bands
const bandItems = hotspotRanges.map((r,i) => ({value:[r[0], r[1]], kind:0, label:hotspotLabels[i]}))
  .concat(motifRanges.map((r,i) => ({value:[r[0], r[1]], kind:1, label:motifLabels[i]})));
series.push({type:'custom', name:'bands', xAxisIndex:2, yAxisIndex:2, z:0, silent:true,
  data:bandItems.map(b => b.value),
  renderItem:(params, api) => {
    const b = bandItems[params.dataIndex];
    const p0 = api.coord([api.value(0), 1]), p1 = api.coord([api.value(1), 0]);
    const cx = (p0[0] + p1[0]) / 2;
    return {type:'group', children:[
      {type:'rect', shape:{x:p0[0], y:p0[1], width:p1[0]-p0[0], height:p1[1]-p0[1]},
       style:{fill: b.kind === 0 ? '#ffffcc' : '#daefd9'}},
      {type:'text', z2:10, style:{text:b.label, x:cx, y: b.kind === 0 ? (p0[1]+p1[1])/2 : p1[1]-16,
        align:'center', verticalAlign:'middle', fontSize:12.5, fontFamily:SANS, fill:'#222'}}
    ]};
  }});
// gene boundary lines
series.push({type:'custom', name:'bounds', xAxisIndex:2, yAxisIndex:2, z:10, silent:true,
  data:geneBounds.map(b => [b]),
  renderItem:(params, api) => {
    const a = api.coord([api.value(0), 1]), b = api.coord([api.value(0), 0]);
    return {type:'line', shape:{x1:a[0], y1:a[1], x2:b[0], y2:b[1]}, style:{stroke:'#111', lineWidth:1}};
  }});
// gene header
series.push({type:'custom', name:'genes', xAxisIndex:3, yAxisIndex:3, z:10, silent:true,
  data:geneNames.map((g,i) => [geneBounds[i], geneBounds[i+1]]),
  renderItem:(params, api) => {
    const a = api.coord([api.value(0), 1]), b = api.coord([api.value(1), 0]);
    const g = geneNames[params.dataIndex];
    return {type:'group', children:[
      {type:'rect', shape:{x:a[0], y:a[1], width:b[0]-a[0], height:b[1]-a[1]}, style:{fill:'#fff', stroke:'#111', lineWidth:1}},
      {type:'text', style:{text:geneDisplay[g] || g, x:(a[0]+b[0])/2, y:(a[1]+b[1])/2+0.5, align:'center', verticalAlign:'middle',
        fontSize:12.5, fontFamily:SANS, fill:'#111', rich:{s:{fontSize:8.5, fontFamily:SANS, verticalAlign:'bottom', fill:'#111', padding:[3,0,0,0]}}}}
    ]};
  }});
// HPD fuzz below the baseline
series.push({type:'custom', name:'fuzz', xAxisIndex:0, yAxisIndex:0, z:2, silent:true, clip:false, data:[[0]],
  renderItem:(params, api) => {
    const pts = hpdFloor.map(p => api.coord([p[0], p[1]]));
    const top = [api.coord([hpdFloor[hpdFloor.length-1][0], baselineW]), api.coord([hpdFloor[0][0], baselineW])];
    return {type:'polygon', shape:{points:pts.concat(top)}, style:{fill:'rgba(205,205,205,0.33)'}};
  }});
series.push(hpdSeries('grayBars', siteGray, '#d2d2d2', 1.3, 3));
series.push({type:'line', name:'baseline', xAxisIndex:0, yAxisIndex:0, z:4, silent:true, symbol:'none',
  data:[[1, baselineW],[4860, baselineW]], lineStyle:{color:'#8f8f8f', width:4},
  markLine:{silent:true, symbol:['none','none'], label:{show:false}, data:[{yAxis:1}],
    lineStyle:{type:[2,3], color:'#333', width:1}}});
series.push(hpdSeries('redBars', siteRed, 'rgba(255,45,45,0.9)', 1.4, 5));
series.push(hpdSeries('orangeBars', siteOrange, '#ffb20f', 1.4, 6));
series.push(pointSeries('grayPts', siteGray, '#8a8a8a', 7));
series.push(pointSeries('orangePts', siteOrange, '#ff8000', 8));
series.push(pointSeries('redPts', siteRed, '#cc0000', 9));
series.push({type:'scatter', name:'stars', xAxisIndex:0, yAxisIndex:0, z:9, silent:true, symbolSize:1,
  itemStyle:{color:'transparent'}, data:starSites,
  label:{show:true, position:'inside', formatter:'*', fontSize:17, fontWeight:'bold', color:'#000', fontFamily:SANS}});
// legend dummy series
[['w<1','#c8c8c8','#8a8a8a'],['w>1 & p<0.5','#ffb20f','#ff8000'],['w>1 & p>0.5','#ff3b3b','#cc0000']].forEach(l => {
  series.push({type:'line', name:l[0], xAxisIndex:0, yAxisIndex:0, data:[], symbol:'circle', symbolSize:6,
    lineStyle:{color:l[1], width:2}, itemStyle:{color:l[2]}});
});
// identity lines (RESTV bottom, BDBV, EBOV top)
[['EBOV', identityEBOV, '#f03a3a', 5.3],['BDBV', identityBDBV, '#33c46c', 5.2],['RESTV', identityRESTV, '#3d5de6', 5.1]].forEach((l, i) => {
  const s = {type:'line', name:l[0], xAxisIndex:1, yAxisIndex:1, data:l[1], symbol:'none', z:l[3],
    lineStyle:{color:l[2], width:1.6}, itemStyle:{color:l[2]}, silent:true};
  if (i === 0) s.markLine = {silent:true, symbol:['none','none'], label:{show:false},
    data:identityGridValues.map(v => ({yAxis:v})), lineStyle:{type:[4,3], color:'#c4c4c4', width:1}};
  series.push(s);
});

// ================= ALIGNMENT PANELS =================
const panelDefs = [
  {letter:'A', start:221, seqs:seqA, hl:hlA, muts:mutA, title:'VP35 Interferon Inhibitory Domain',
   x0:120.7, s:8.17, y0:559, dy:10.5, box:[67,539,1195,601], titleY:530, letterY:564,
   arrowTop:603, arrowBot:626, mutFont:11, mutDx:[0]},
  {letter:'B', start:75, seqs:seqB, hl:hlB, muts:[], title:'GP{s|1,2} NPC1 region of interaction',
   x0:121, s:9.1, y0:662.5, dy:10, box:[67,645,881,703], titleY:636, letterY:671},
  {letter:'C', start:584, seqs:seqC, hl:hlC, muts:[], title:'GP{s|1,2} Immunosuppressive Motif',
   x0:121, s:9.27, y0:767, dy:9.8, box:[67,747,392,807], titleY:739, letterY:775},
  {letter:'D', start:115, seqs:seqD, hl:hlD, muts:mutD, title:'VP24 KPNA region of interaction',
   x0:121, s:9.09, y0:869, dy:10, box:[67,851,1053,908], titleY:840, letterY:872,
   arrowTop:909, arrowBot:932, mutFont:9.8, mutDx:[-6,-5,8]}
];
const graphics = [];
const rowRich = {};
rowColors.forEach((c, i) => { rowRich['r' + i] = {color:c, fontWeight:'bold', fontSize:10.5, fontFamily:DJ}; });

panelDefs.forEach((p, pi) => {
  const gi = 4 + pi;
  const nSlots = Math.max(...p.seqs.map(s => s.length));
  const slotOf = res => { const k = res - p.start; return k + Math.floor(k / 10); };
  grids.push({left:p.x0 - p.s/2, top:p.y0 - p.dy/2, width:nSlots * p.s, height:4 * p.dy});
  xAxes.push({gridIndex:gi, type:'value', min:-0.5, max:nSlots - 0.5, show:false});
  yAxes.push({gridIndex:gi, type:'category', inverse:true, data:alignRows,
    axisLine:{show:false}, axisTick:{show:false}, splitLine:{show:false},
    axisLabel:{interval:0, margin:8, formatter:(v, idx) => '{r' + idx + '|' + v + '}', rich:rowRich}});
  const cells = [];
  p.seqs.forEach((seq, r) => {
    for (let j = 0; j < seq.length; j++) {
      const ch = seq[j];
      if (ch === ' ') continue;
      const res = p.start + j - Math.floor(j / 11);
      cells.push({slot:j, row:r, ch, hl:p.hl[r].indexOf(res) >= 0});
    }
  });
  series.push({type:'custom', name:'cells' + p.letter, xAxisIndex:gi, yAxisIndex:gi, silent:true, z:5,
    data:cells.map(c => [c.slot, c.row]),
    renderItem:(params, api) => {
      const c = cells[params.dataIndex];
      const pt = api.coord([c.slot, c.row]);
      const sz = api.size([1, 1]);
      const ch = [];
      if (c.hl) ch.push({type:'rect', shape:{x:pt[0]-sz[0]/2+0.4, y:pt[1]-sz[1]/2+0.5, width:sz[0]-0.8, height:sz[1]-1},
        style:{fill:aaColor[c.ch] || '#ccc'}});
      const isI = c.ch === 'I' && !c.hl;
      ch.push({type:'text', style:{text:c.ch, x:pt[0], y:pt[1]+0.5, align:'center', verticalAlign:'middle',
        fontSize:10.5, fontFamily:DJ, fontWeight: isI ? 'bold' : 'normal',
        fill: c.hl ? '#1a1a1a' : (isI ? '#555' : '#8c8c8c')}});
      return {type:'group', children:ch};
    }});
  // residue number labels (every 10 residues)
  const nGroups = Math.ceil(p.seqs[0].replace(/ /g, '').length / 10);
  const groupSlots = [];
  for (let g = 0; g < nGroups; g++) groupSlots.push(g * 11);
  series.push({type:'custom', name:'nums' + p.letter, xAxisIndex:gi, yAxisIndex:gi, silent:true, z:5,
    data:groupSlots.map(s => [s, 0]),
    renderItem:(params, api) => {
      const pt = api.coord([api.value(0), 0]);
      const num = p.start + Math.round(api.value(0) / 11) * 10;
      return {type:'text', style:{text:String(num), x:pt[0], y:pt[1] - p.dy - 2.5, align:'center', verticalAlign:'middle',
        fontSize:10.5, fontFamily:DJ, fill:'#111'}};
    }});
  if (p.muts.length) {
    series.push({type:'custom', name:'muts' + p.letter, xAxisIndex:gi, yAxisIndex:gi, silent:true, z:6,
      data:p.muts.map(m => [slotOf(m[0]), 3]),
      renderItem:(params, api) => {
        const x = api.coord([api.value(0), 3])[0];
        const t = p.arrowTop, hb = t + 10, b = p.arrowBot;
        return {type:'group', children:[
          {type:'polygon', shape:{points:[[x,t],[x-8,hb],[x-2.6,hb],[x-2.6,b],[x+2.6,b],[x+2.6,hb],[x+8,hb]]}, style:{fill:'#3d63f2'}},
          {type:'text', style:{text:p.muts[params.dataIndex][1], x:x + p.mutDx[params.dataIndex], y:b+7.5, align:'center', verticalAlign:'middle',
            fontSize:p.mutFont, fontFamily:DJ, fill:'#111'}}
        ]};
      }});
  }
  const bx = p.box;
  graphics.push({type:'rect', shape:{x:bx[0], y:bx[1], width:bx[2]-bx[0], height:bx[3]-bx[1]},
    style:{fill:'none', stroke:'#333', lineWidth:1.5}, z:1});
  graphics.push({type:'text', x:68, y:p.titleY, style:{text:p.title, fontSize:12.5, fontFamily:DJ, fill:'#111',
    verticalAlign:'middle', rich:{s:{fontSize:8.5, fontFamily:DJ, fill:'#111', verticalAlign:'bottom', padding:[5,0,0,0]}}}});
  graphics.push({type:'text', x:46, y:p.letterY, style:{text:p.letter, fontSize:31, fontFamily:DJ, fill:'#000',
    align:'center', verticalAlign:'middle'}});
});

const option = {
  animation:false,
  backgroundColor:'#fff',
  grid:grids,
  xAxis:xAxes,
  yAxis:yAxes,
  legend:[
    {data:['w<1','w>1 & p<0.5','w>1 & p>0.5'], orient:'vertical', left:831, top:49, itemWidth:22, itemHeight:10, itemGap:3,
     textStyle:{fontSize:12.5, color:'#222', fontFamily:SANS}, selectedMode:false},
    {data:['EBOV','BDBV','RESTV'], orient:'vertical', left:831, top:377, itemWidth:24, itemHeight:10, itemGap:7,
     textStyle:{fontSize:12.5, color:'#222', fontFamily:SANS}, selectedMode:false}
  ],
  graphic:graphics,
  series
};
const chart = echarts.init(document.getElementById('chart'));
chart.setOption(option);
</script>
</body>
</html>
